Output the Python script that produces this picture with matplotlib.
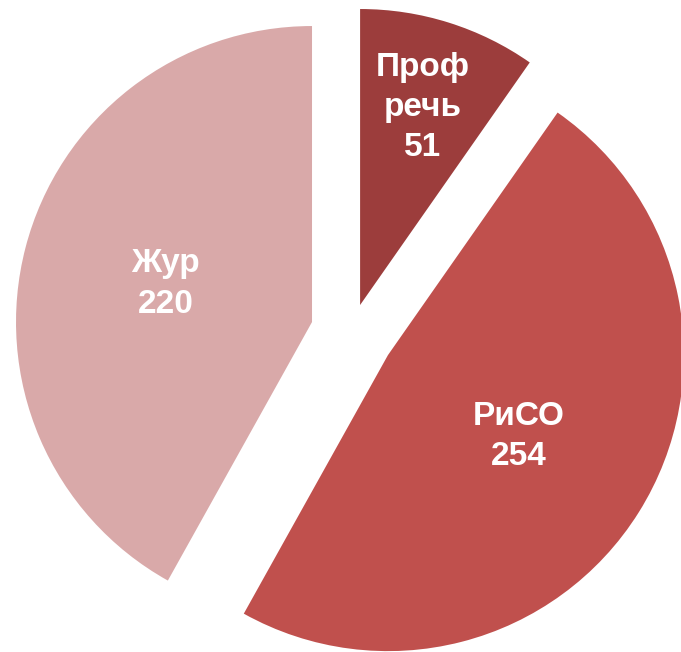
import numpy as np
import matplotlib
matplotlib.use("Agg")
import matplotlib.pyplot as plt

# Data
categories = ["Проф\nречь", "РиСО", "Жур"]
values = [51, 254, 220]
colors = ["#9C3D3C", "#C0504D", "#D9A9A9"]
explode_px = [28.6, 43.0, 40.8]
label_frac = [0.70, 0.52, 0.51]

W, H = 681, 652
fig = plt.figure(figsize=(W / 100, H / 100), dpi=100)
ax = fig.add_axes([0, 0, 1, 1])

R = 296
cx, cy = 351.5, 332.3  # pie centre in pixels from top-left

wedges, _ = ax.pie(values, colors=colors, explode=explode_px, radius=R,
                   startangle=90, counterclock=False,
                   wedgeprops=dict(linewidth=0))

ax.set_xlim(-cx, W - cx)
ax.set_ylim(-(H - cy), cy)
ax.set_aspect('equal')
ax.axis('off')

for w, cat, val, f in zip(wedges, categories, values, label_frac):
    ang = np.deg2rad((w.theta1 + w.theta2) / 2)
    x = w.center[0] + f * w.r * np.cos(ang)
    y = w.center[1] + f * w.r * np.sin(ang)
    ax.text(x, y, f"{cat}\n{val}", ha='center', va='center',
            color='white', fontsize=24, fontweight='bold',
            family=['Liberation Sans', 'DejaVu Sans'], linespacing=1.38)

fig.savefig("out.png", dpi=100)
